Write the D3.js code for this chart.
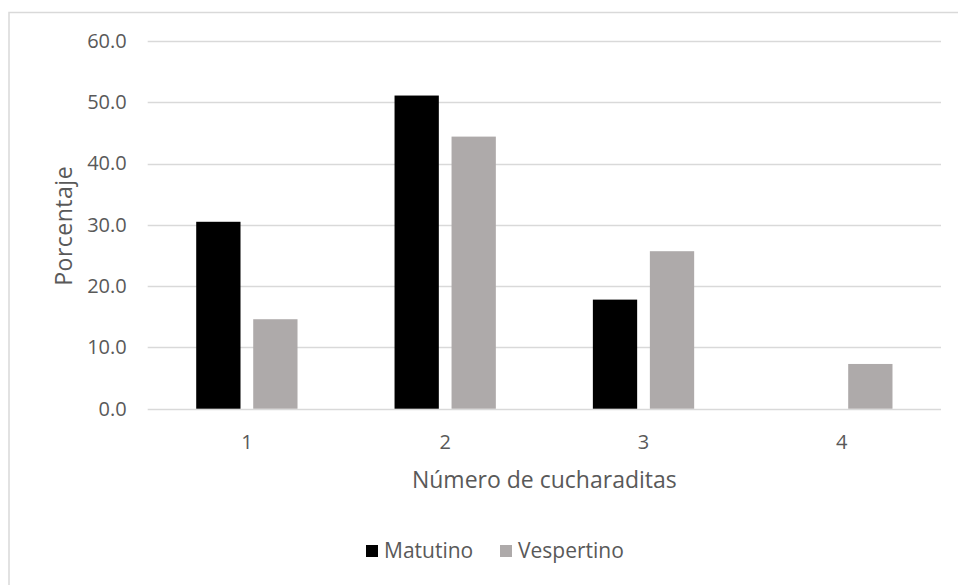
<!DOCTYPE html>
<html>
<head>
<meta charset="utf-8">
<script src="https://cdn.jsdelivr.net/npm/d3@7"></script>
<style>
  html, body { margin: 0; padding: 0; background: #fff; }
  svg { display: block; font-family: "Open Sans", "Noto Sans", sans-serif; }
</style>
</head>
<body>
<svg id="chart" width="958" height="585"></svg>
<script>
// Number of teaspoons (categories) and percentage per shift
const categories = ["1", "2", "3", "4"];
const seriesNames = ["Matutino", "Vespertino"];
const matutino = [30.5, 51.1, 17.8, 0];
const vespertino = [14.6, 44.4, 25.7, 7.3];
const yTicks = [0, 10, 20, 30, 40, 50, 60];
const colors = ["#000000", "#aeaaaa"];

const svg = d3.select("#chart");
const textColor = "#595959";
const gridColor = "#d9d9d9";

// outer chart frame
svg.append("rect")
  .attr("x", 9).attr("y", 12.5)
  .attr("width", 980).attr("height", 600)
  .attr("fill", "none").attr("stroke", gridColor).attr("stroke-width", 1.5);

const plot = { left: 147.7, right: 941, top: 41, bottom: 408.7 };

const x0 = d3.scaleBand().domain(categories)
  .range([plot.left, plot.right]).paddingInner(0).paddingOuter(0);
const x1 = d3.scaleBand().domain(seriesNames)
  .range([0, x0.bandwidth()]).paddingInner(0.223).paddingOuter(0.851);
const y = d3.scaleLinear().domain([0, 60]).range([plot.bottom, plot.top]);

// horizontal gridlines
svg.append("g").selectAll("line").data(yTicks).join("line")
  .attr("x1", plot.left).attr("x2", plot.right)
  .attr("y1", d => Math.round(y(d)) + 0.5).attr("y2", d => Math.round(y(d)) + 0.5)
  .attr("stroke", gridColor).attr("stroke-width", 1.3);

// y axis labels
const yAxis = d3.axisLeft(y).tickValues(yTicks).tickFormat(d3.format(".1f")).tickSize(0).tickPadding(0);
const gy = svg.append("g").attr("transform", `translate(${plot.left - 21},0)`).call(yAxis);
gy.select(".domain").remove();
gy.selectAll("text").attr("fill", textColor).attr("font-size", 20)
  .attr("font-family", "'Open Sans', sans-serif");

// bars
const rows = categories.map((c, i) => ({ cat: c, values: [matutino[i], vespertino[i]] }));
const groups = svg.append("g").selectAll("g").data(rows).join("g")
  .attr("transform", d => `translate(${x0(d.cat)},0)`);
groups.selectAll("rect")
  .data(d => d.values.map((v, j) => ({ key: seriesNames[j], value: v, color: colors[j] })))
  .join("rect")
  .filter(d => d.value > 0)
  .attr("x", d => x1(d.key))
  .attr("width", x1.bandwidth())
  .attr("y", d => y(d.value))
  .attr("height", d => y(0) - y(d.value))
  .attr("fill", d => d.color);

// x axis labels
const xAxis = d3.axisBottom(x0).tickSize(0).tickPadding(0);
const gx = svg.append("g").attr("transform", `translate(0,${plot.bottom + 26})`).call(xAxis);
gx.select(".domain").remove();
gx.selectAll("text").attr("fill", textColor).attr("font-size", 20)
  .attr("font-family", "'Open Sans', sans-serif").attr("dy", "0.71em");

// axis titles
svg.append("text")
  .attr("x", (plot.left + plot.right) / 2).attr("y", 488)
  .attr("text-anchor", "middle").attr("fill", textColor).attr("font-size", 23)
  .text("Número de cucharaditas");
svg.append("text")
  .attr("transform", `translate(72,${(plot.top + plot.bottom) / 2 + 1}) rotate(-90)`)
  .attr("text-anchor", "middle").attr("fill", textColor).attr("font-size", 23)
  .attr("letter-spacing", 0.5)
  .text("Porcentaje");

// legend
const legendItems = [
  { name: seriesNames[0], color: colors[0], x: 366 },
  { name: seriesNames[1], color: colors[1], x: 500 }
];
const lg = svg.append("g").selectAll("g").data(legendItems).join("g")
  .attr("transform", d => `translate(${d.x},545)`);
lg.append("rect").attr("width", 12).attr("height", 12).attr("fill", d => d.color);
lg.append("text").attr("x", 18).attr("y", 13)
  .attr("fill", textColor).attr("font-size", 21).text(d => d.name);
</script>
</body>
</html>
